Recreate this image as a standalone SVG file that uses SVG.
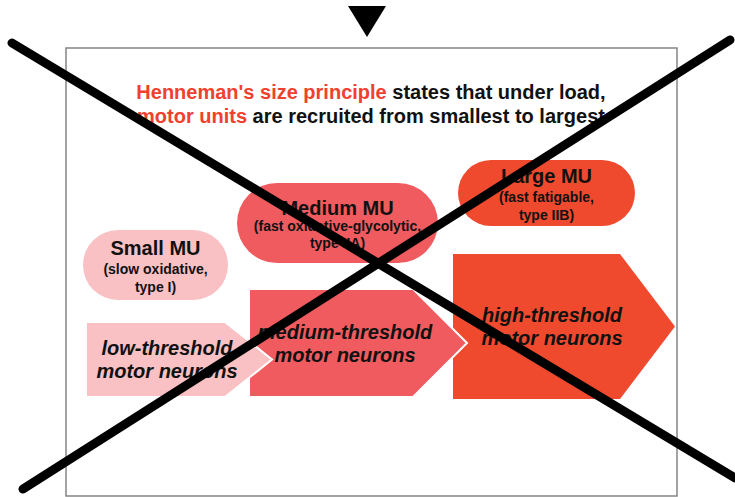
<svg xmlns="http://www.w3.org/2000/svg" width="735" height="497" viewBox="0 0 735 497">
  <style>
    text { font-family: "Liberation Sans", Arial, sans-serif; font-weight: bold; fill: #111; text-anchor: middle; }
    .title { font-size: 20px; }
    .red { fill: #f0412f; }
    .head { font-size: 20px; }
    .sub { font-size: 14px; }
    .arrowtxt { font-size: 20px; font-style: italic; }
    .low { fill: #f9c1c4; }
    .mid { fill: #f05b60; }
    .high { fill: #ef4a2e; }
    .tip { stroke: #ffffff; stroke-width: 2; stroke-linejoin: miter; }
    .cross { stroke: #000; stroke-width: 9; stroke-linecap: round; fill: none; }
  </style>

  <rect width="735" height="497" fill="#ffffff"/>

  <!-- marker above the slide -->
  <polygon points="348,6 386,6 367,37" fill="#000"/>

  <!-- slide frame -->
  <rect x="66" y="48" width="611" height="448" fill="#ffffff" stroke="#858585" stroke-width="1.5"/>

  <!-- heading -->
  <g id="title">
    <text class="title" x="371" y="99"><tspan class="red">Henneman's size principle</tspan> states that under load,</text>
    <text class="title" x="371" y="123"><tspan class="red">motor units</tspan> are recruited from smallest to largest</text>
  </g>

  <!-- motor unit types -->
  <g id="small-mu">
    <rect class="low" x="83" y="230" width="145" height="70" rx="35"/>
    <text class="head" x="155.5" y="255">Small MU</text>
    <text class="sub" x="155.5" y="274">(slow oxidative,</text>
    <text class="sub" x="155.5" y="292">type I)</text>
  </g>

  <g id="medium-mu">
    <rect class="mid" x="237" y="183" width="201" height="80" rx="40"/>
    <text class="head" x="337.5" y="215">Medium MU</text>
    <text class="sub" x="337.5" y="231">(fast oxidative-glycolytic,</text>
    <text class="sub" x="337.5" y="248">type IIA)</text>
  </g>

  <g id="large-mu">
    <rect class="high" x="458" y="160" width="177" height="66" rx="33"/>
    <text class="head" x="546.5" y="183">Large MU</text>
    <text class="sub" x="546.5" y="202">(fast fatigable,</text>
    <text class="sub" x="546.5" y="220">type IIB)</text>
  </g>

  <!-- threshold arrows, drawn right to left so each tip overlaps the next -->
  <g id="high-threshold">
    <polygon class="high" points="453,254 620,254 675,326.5 620,399 453,399"/>
    <text class="arrowtxt" x="552" y="322">high-threshold</text>
    <text class="arrowtxt" x="552" y="345">motor neurons</text>
  </g>

  <g id="medium-threshold">
    <polygon class="mid tip" points="249,289 413,289 467,343 413,397 249,397"/>
    <text class="arrowtxt" x="345" y="339">medium-threshold</text>
    <text class="arrowtxt" x="345" y="362">motor neurons</text>
  </g>

  <g id="low-threshold">
    <polygon class="low tip" points="86,322 225,322 272,359.5 225,397 86,397"/>
    <text class="arrowtxt" x="167" y="355">low-threshold</text>
    <text class="arrowtxt" x="167" y="378">motor neurons</text>
  </g>

  <!-- strike-through cross over the slide -->
  <g id="cross">
    <line class="cross" x1="12" y1="43" x2="735" y2="478"/>
    <line class="cross" x1="23" y1="489" x2="730" y2="40"/>
  </g>
</svg>
